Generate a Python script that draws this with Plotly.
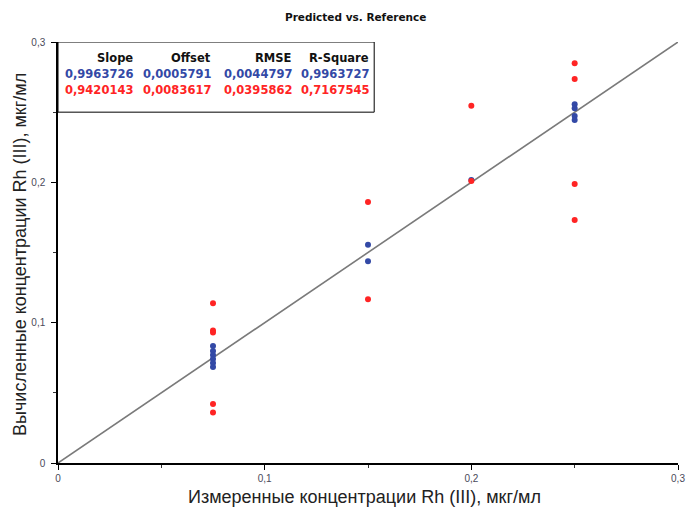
import plotly.graph_objects as go

# ---- data ----
x_blue = [0.075, 0.075, 0.075, 0.075, 0.075, 0.075, 0.15, 0.15, 0.2, 0.25, 0.25, 0.25, 0.25]
y_blue = [0.0834, 0.0798, 0.0770, 0.0741, 0.0713, 0.0684, 0.1556, 0.1437, 0.2017, 0.2557, 0.2528, 0.2473, 0.2445]
x_red = [0.075, 0.075, 0.075, 0.075, 0.075, 0.15, 0.15, 0.2, 0.2, 0.25, 0.25, 0.25, 0.25]
y_red = [0.1138, 0.0945, 0.0930, 0.0420, 0.0359, 0.1860, 0.1167, 0.2545, 0.2010, 0.2849, 0.2737, 0.1989, 0.1732]
identity_line = [0.0, 0.3]

stat_headers = ["Slope", "Offset", "RMSE", "R-Square"]
stats_blue = ["0,9963726", "0,0005791", "0,0044797", "0,9963727"]
stats_red = ["0,9420143", "0,0083617", "0,0395862", "0,7167545"]

title_text = "Predicted vs. Reference"
x_title = "Измеренные концентрации Rh (III), мкг/мл"
y_title = "Вычисленные концентрации Rh (III), мкг/мл"

BLUE = "#3349a6"
RED = "#ff2424"

fig = go.Figure()
fig.add_trace(go.Scatter(x=identity_line, y=identity_line, mode="lines",
                         line=dict(color="#7a7a7a", width=1.6), hoverinfo="skip"))
fig.add_trace(go.Scatter(x=x_blue, y=y_blue, mode="markers",
                         marker=dict(color=BLUE, size=6)))
fig.add_trace(go.Scatter(x=x_red, y=y_red, mode="markers",
                         marker=dict(color=RED, size=6)))

axis_common = dict(range=[0, 0.3], dtick=0.1, tick0=0, showgrid=False, zeroline=False,
                   automargin=False,
                   showline=True, linecolor="black", linewidth=1.5,
                   ticks="outside", ticklen=5, tickcolor="black", tickwidth=1,
                   minor=dict(dtick=0.05, ticks="outside", ticklen=3, tickcolor="#333", tickwidth=1),
                   tickfont=dict(family="Liberation Sans", size=10, color="#4a4a5a"))

fig.update_xaxes(**axis_common)
fig.update_yaxes(**axis_common, ticklabelstandoff=4)

# stats table box
fig.add_shape(type="rect", xref="x", yref="y", x0=0, x1=0.153, y0=0.25, y1=0.3,
              line=dict(color="black", width=1), fillcolor="white", layer="below")

col_x = [0.0374, 0.0750, 0.1142, 0.1514]
row_y = [0.2887, 0.2773, 0.2659]
rows = [(stat_headers, "#111111"), (stats_blue, BLUE), (stats_red, RED)]
for (vals, col), yy in zip(rows, row_y):
    for v, xx in zip(vals, col_x):
        fig.add_annotation(x=xx, y=yy, xref="x", yref="y", text="<b>%s</b>" % v,
                           showarrow=False, xanchor="right", yanchor="middle",
                           font=dict(family="DejaVu Sans", size=11.5, color=col))

fig.add_annotation(x=(355 - 58) / 620, y=(463 - 17) / 421, xref="paper", yref="paper",
                   text="<b>%s</b>" % title_text, showarrow=False,
                   xanchor="center", yanchor="middle",
                   font=dict(family="DejaVu Sans", size=10.5, color="#111"))

fig.add_annotation(x=(364 - 58) / 620, y=-(497 - 463) / 421, xref="paper", yref="paper",
                   text=x_title, showarrow=False, xanchor="center", yanchor="middle",
                   font=dict(family="Liberation Sans", size=18, color="#222"))
fig.add_annotation(x=-(58 - 20) / 620, y=(463 - 255) / 421, xref="paper", yref="paper",
                   text=y_title, showarrow=False, xanchor="center", yanchor="middle",
                   textangle=-90,
                   font=dict(family="Liberation Sans", size=18, color="#222"))

fig.update_layout(
    width=687, height=510,
    margin=dict(l=58, r=9, t=42, b=47, autoexpand=False),
    paper_bgcolor="white", plot_bgcolor="white",
    showlegend=False,
    separators=",.",
)

fig.write_html("out.html")
